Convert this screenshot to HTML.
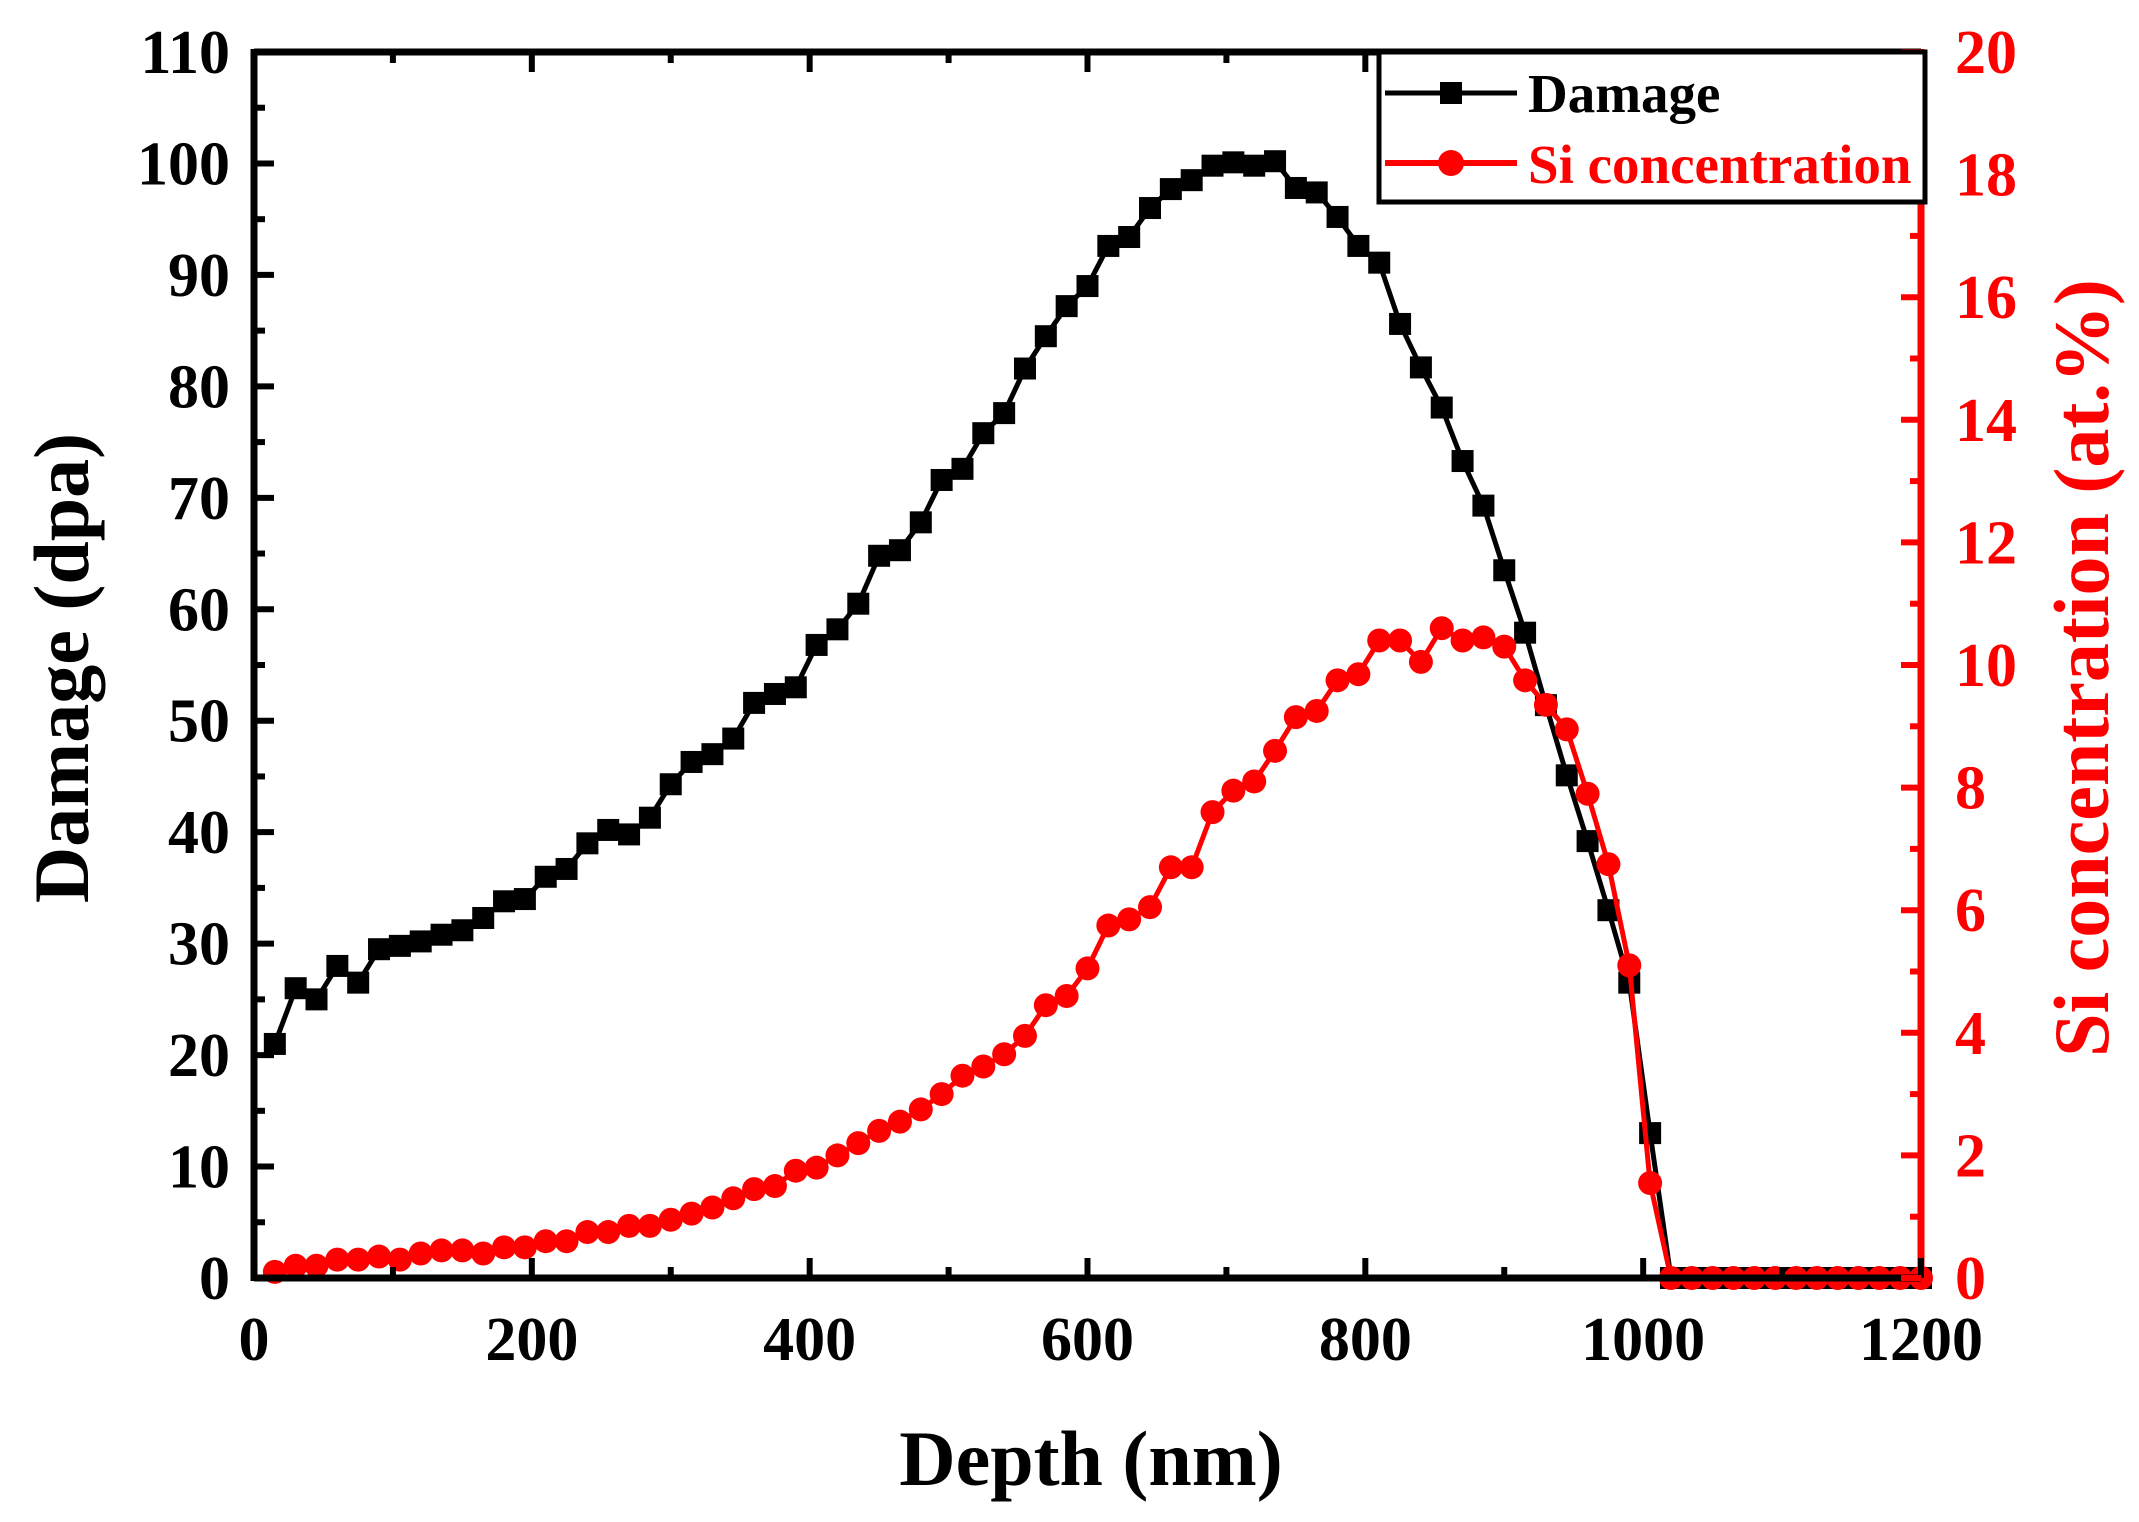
<!DOCTYPE html>
<html><head><meta charset="utf-8"><style>
html,body{margin:0;padding:0;background:#fff;}
svg{display:block;font-family:"Liberation Serif",serif;font-weight:bold;}
</style></head><body>
<svg id="s" width="2139" height="1522" viewBox="0 0 2139 1522" xmlns="http://www.w3.org/2000/svg"></svg>
<script>
const X0=254,X1=1921,Y0=1278,Y1=52;
const fx=d=>X0+(X1-X0)*d/1200, fyL=v=>Y0-(Y0-Y1)*v/110, fyR=v=>Y0-(Y0-Y1)*v/20;
const dmg=[21,26,25,28,26.5,29.5,29.8,30.2,30.8,31.2,32.3,33.8,34,36,36.7,39,40.2,39.8,41.3,44.3,46.3,47,48.4,51.6,52.4,53,56.8,58.2,60.5,64.8,65.3,67.8,71.6,72.6,75.8,77.6,81.6,84.5,87.2,89,92.6,93.4,96,97.7,98.5,99.8,100.1,99.8,100.2,97.8,97.4,95.2,92.6,91.1,85.6,81.7,78.1,73.3,69.3,63.5,57.9,51.4,45.1,39.2,33,26.5,13,0];
const si=[0.1,0.2,0.2,0.3,0.3,0.35,0.3,0.4,0.45,0.45,0.4,0.5,0.5,0.6,0.6,0.75,0.75,0.85,0.85,0.95,1.05,1.15,1.3,1.45,1.5,1.75,1.8,2.0,2.2,2.4,2.55,2.75,3.0,3.3,3.45,3.65,3.95,4.45,4.6,5.05,5.75,5.85,6.05,6.7,6.7,7.6,7.95,8.1,8.6,9.15,9.25,9.75,9.85,10.4,10.4,10.05,10.6,10.4,10.45,10.3,9.75,9.35,8.95,7.9,6.75,5.1,1.55,0];
while(dmg.length<80)dmg.push(0); while(si.length<80)si.push(0);
let h='';
// damage
let p=dmg.map((v,i)=>fx(15*(i+1)).toFixed(1)+','+fyL(v).toFixed(1)).join(' ');
h+=`<polyline points="${p}" fill="none" stroke="#000" stroke-width="5"/>`;
dmg.forEach((v,i)=>{h+=`<rect x="${fx(15*(i+1))-11}" y="${fyL(v)-11}" width="22" height="22" fill="#000"/>`;});
p=si.map((v,i)=>fx(15*(i+1)).toFixed(1)+','+fyR(v).toFixed(1)).join(' ');
h+=`<polyline points="${p}" fill="none" stroke="#f00" stroke-width="5"/>`;
si.forEach((v,i)=>{h+=`<circle cx="${fx(15*(i+1))}" cy="${fyR(v)}" r="12" fill="#f00"/>`;});
// axes
h+=`<line x1="${X0}" y1="${Y1}" x2="${X1}" y2="${Y1}" stroke="#000" stroke-width="7"/>`;
h+=`<line x1="${X0}" y1="${Y0}" x2="${X1}" y2="${Y0}" stroke="#000" stroke-width="7"/>`;
h+=`<line x1="${X0}" y1="${Y1-3}" x2="${X0}" y2="${Y0+3}" stroke="#000" stroke-width="7"/>`;
h+=`<line x1="${X1}" y1="${Y1-3}" x2="${X1}" y2="${Y0+3}" stroke="#f00" stroke-width="7"/>`;
for(let d=0;d<=1200;d+=100){const x=fx(d),L=d%200==0?20:11;
 h+=`<line x1="${x}" y1="${Y0}" x2="${x}" y2="${Y0-L}" stroke="#000" stroke-width="6"/>`;
 h+=`<line x1="${x}" y1="${Y1}" x2="${x}" y2="${Y1+L}" stroke="#000" stroke-width="6"/>`;
 if(d%200==0)h+=`<text x="${x}" y="1360" font-size="62" text-anchor="middle">${d}</text>`;}
for(let v=0;v<=110;v+=5){const y=fyL(v),L=v%10==0?20:11;
 h+=`<line x1="${X0}" y1="${y}" x2="${X0+L}" y2="${y}" stroke="#000" stroke-width="6"/>`;
 if(v%10==0)h+=`<text x="230" y="${y+21}" font-size="62" text-anchor="end">${v}</text>`;}
for(let v=0;v<=20;v+=1){const y=fyR(v),L=v%2==0?20:11;
 h+=`<line x1="${X1}" y1="${y}" x2="${X1-L}" y2="${y}" stroke="#f00" stroke-width="6"/>`;
 if(v%2==0)h+=`<text x="1955" y="${y+21}" font-size="62" fill="#f00">${v}</text>`;}
// labels
h+=`<text x="1091" y="1485" font-size="78" text-anchor="middle">Depth (nm)</text>`;
h+=`<text transform="translate(88,668) rotate(-90)" font-size="78" text-anchor="middle">Damage (dpa)</text>`;
h+=`<text transform="translate(2108,668) rotate(-90)" font-size="78" text-anchor="middle" fill="#f00">Si concentration (at.%)</text>`;
// legend
h+=`<rect x="1379" y="52" width="546" height="150" fill="#fff" stroke="#000" stroke-width="5"/>`;
h+=`<line x1="1385" y1="93" x2="1517" y2="93" stroke="#000" stroke-width="5"/><rect x="1440" y="82" width="22" height="22" fill="#000"/>`;
h+=`<text x="1528" y="112" font-size="55">Damage</text>`;
h+=`<line x1="1385" y1="163" x2="1517" y2="163" stroke="#f00" stroke-width="6"/><circle cx="1451" cy="163" r="13" fill="#f00"/>`;
h+=`<text x="1528" y="183" font-size="55" fill="#f00">Si concentration</text>`;
document.getElementById('s').innerHTML=h;
</script>
</body></html>
